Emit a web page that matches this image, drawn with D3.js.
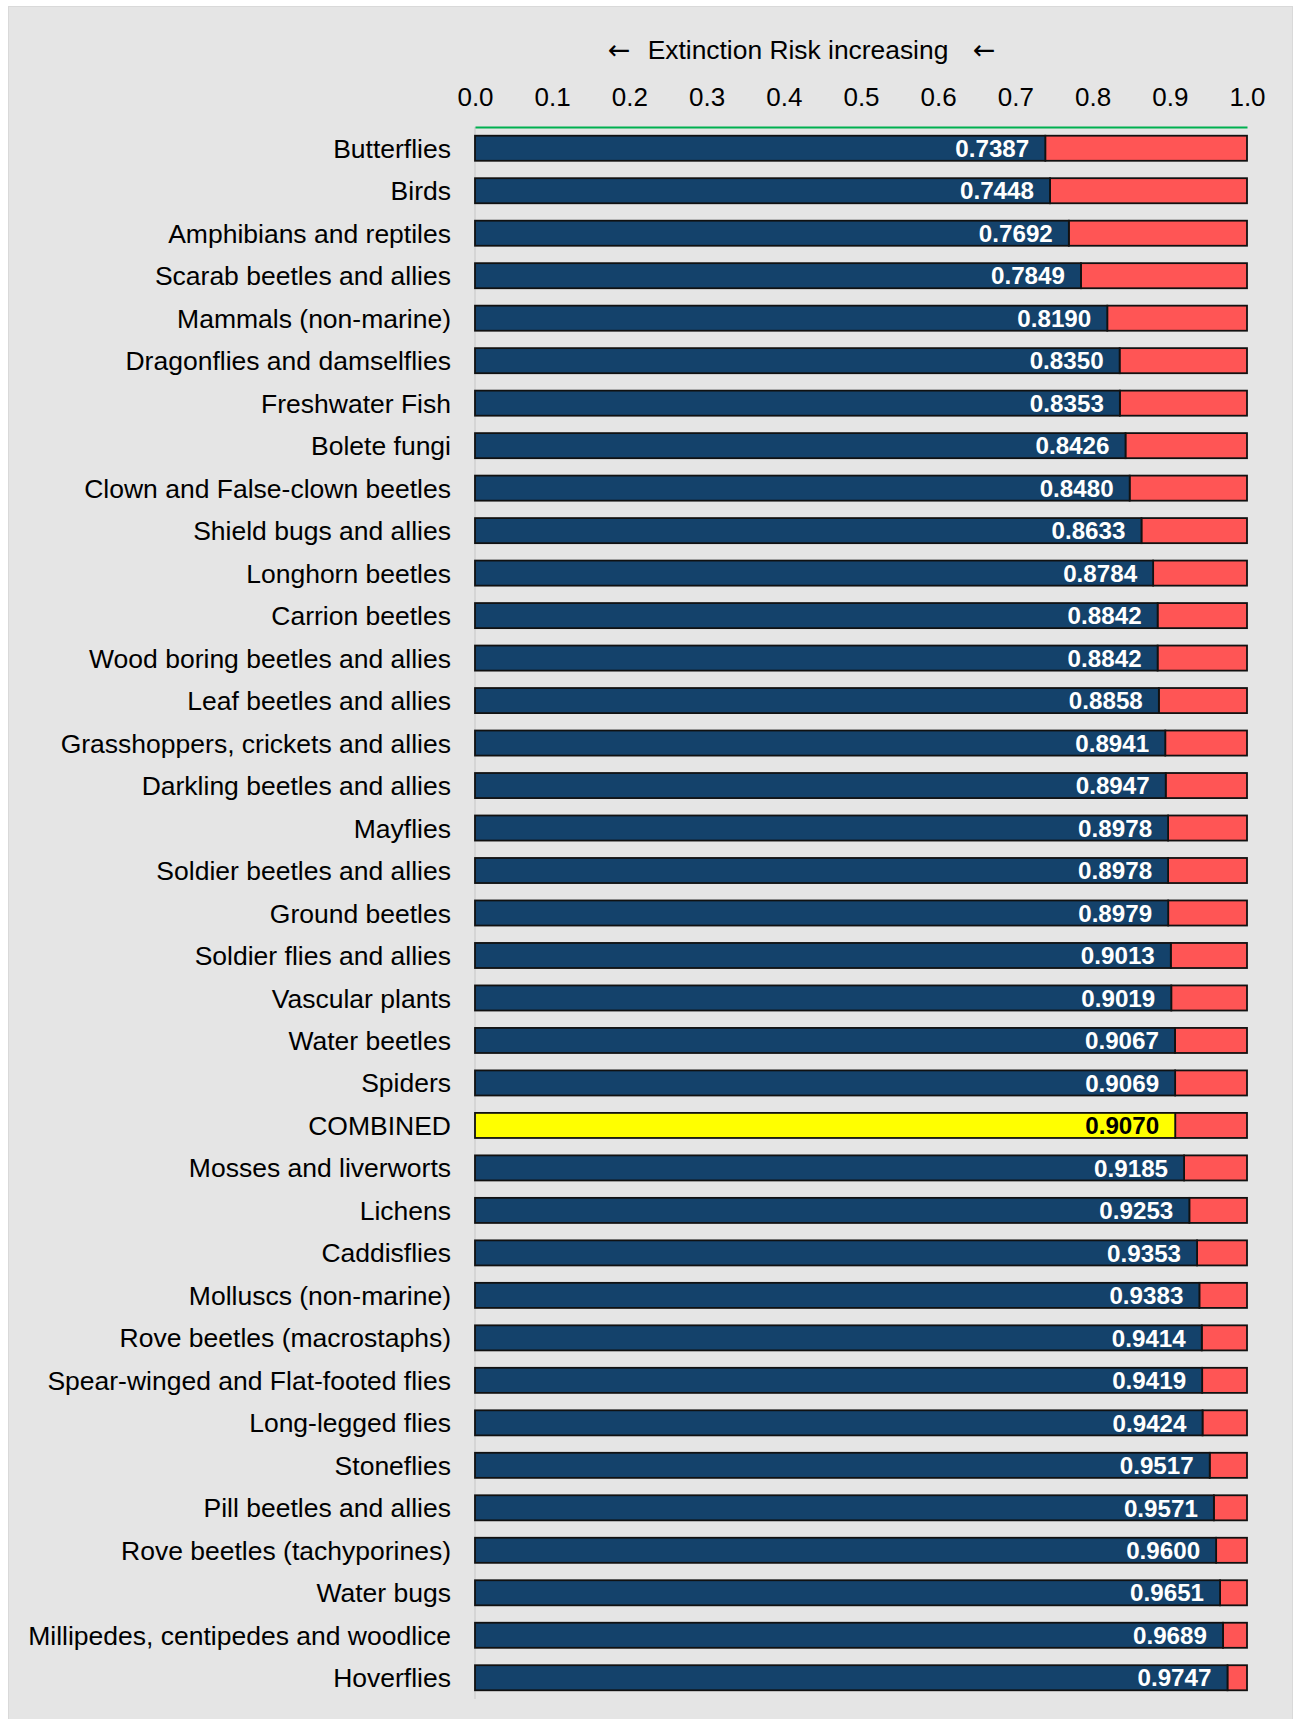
<!DOCTYPE html>
<html><head><meta charset="utf-8">
<script src="https://cdn.jsdelivr.net/npm/d3@7"></script>
<style>body{margin:0;background:#fff;font-family:"Liberation Sans",Arial,sans-serif;}</style>
</head><body><div id="chart"></div>
<script>
const categories = ["Butterflies","Birds","Amphibians and reptiles","Scarab beetles and allies","Mammals (non-marine)","Dragonflies and damselflies","Freshwater Fish","Bolete fungi","Clown and False-clown beetles","Shield bugs and allies","Longhorn beetles","Carrion beetles","Wood boring beetles and allies","Leaf beetles and allies","Grasshoppers, crickets and allies","Darkling beetles and allies","Mayflies","Soldier beetles and allies","Ground beetles","Soldier flies and allies","Vascular plants","Water beetles","Spiders","COMBINED","Mosses and liverworts","Lichens","Caddisflies","Molluscs (non-marine)","Rove beetles (macrostaphs)","Spear-winged and Flat-footed flies","Long-legged flies","Stoneflies","Pill beetles and allies","Rove beetles (tachyporines)","Water bugs","Millipedes, centipedes and woodlice","Hoverflies"];
const values = [0.7387,0.7448,0.7692,0.7849,0.8190,0.8350,0.8353,0.8426,0.8480,0.8633,0.8784,0.8842,0.8842,0.8858,0.8941,0.8947,0.8978,0.8978,0.8979,0.9013,0.9019,0.9067,0.9069,0.9070,0.9185,0.9253,0.9353,0.9383,0.9414,0.9419,0.9424,0.9517,0.9571,0.9600,0.9651,0.9689,0.9747];
const tickValues = [0,0.1,0.2,0.3,0.4,0.5,0.6,0.7,0.8,0.9,1.0];
const title = "Extinction Risk increasing";
const arrow = "\u2190";
const highlight = "COMBINED";

const W = 1295, H = 1719;
const svg = d3.select("#chart").append("svg").attr("width", W).attr("height", H);
svg.append("rect").attr("x", 8.5).attr("y", 6.5).attr("width", 1284).attr("height", H)
  .attr("fill", "#e5e5e5").attr("stroke", "#d9d9d9");

const x = d3.scaleLinear().domain([0, 1]).range([475, 1247]);
const y = d3.scaleBand().domain(categories).range([127, 1699]).paddingInner(0.41).paddingOuter(0.205);

svg.append("line").attr("x1", 475).attr("x2", 475).attr("y1", 127).attr("y2", 1699)
  .attr("stroke", "#cfcfcf").attr("stroke-width", 1.5);

const ax = svg.append("g").attr("transform", "translate(0,127)")
  .call(d3.axisTop(x).tickValues(tickValues).tickFormat(d3.format(".1f")).tickSize(0).tickPadding(21));
ax.select(".domain").attr("stroke", "#00b050").attr("stroke-width", 2);
ax.selectAll("text").attr("font-size", 26).attr("font-family", "Liberation Sans, Arial, sans-serif").attr("fill", "#000");

svg.append("text").attr("x", 798).attr("y", 59).attr("text-anchor", "middle")
  .attr("font-size", 26.4).attr("fill", "#000").text(title);
[619, 984].forEach(cx => svg.append("text").attr("x", cx).attr("y", 59).attr("text-anchor", "middle")
  .attr("font-family", "DejaVu Sans").attr("font-size", 27).attr("fill", "#000").text(arrow));

const g = svg.append("g");
const rows = g.selectAll("g.row").data(categories.map((c, i) => ({c, v: values[i]}))).join("g");
rows.append("rect").attr("x", d => x(d.v)).attr("y", d => y(d.c)).attr("width", d => x(1) - x(d.v))
  .attr("height", y.bandwidth()).attr("fill", "#ff5555").attr("stroke", "#111").attr("stroke-width", 1.8);
rows.append("rect").attr("x", x(0)).attr("y", d => y(d.c)).attr("width", d => x(d.v) - x(0))
  .attr("height", y.bandwidth()).attr("fill", d => d.c === highlight ? "#ffff00" : "#14426b")
  .attr("stroke", "#111").attr("stroke-width", 1.8);
rows.append("text").attr("x", d => x(d.v) - 16).attr("y", d => y(d.c) + y.bandwidth() / 2)
  .attr("dy", "0.36em").attr("text-anchor", "end").attr("font-weight", "bold").attr("font-size", 24.2)
  .attr("fill", d => d.c === highlight ? "#000" : "#fff").text(d => d.v.toFixed(4));
rows.append("text").attr("x", 451).attr("y", d => y(d.c) + y.bandwidth() / 2)
  .attr("dy", "0.36em").attr("text-anchor", "end").attr("font-size", 26.5).attr("fill", "#000").text(d => d.c);
</script></body></html>
